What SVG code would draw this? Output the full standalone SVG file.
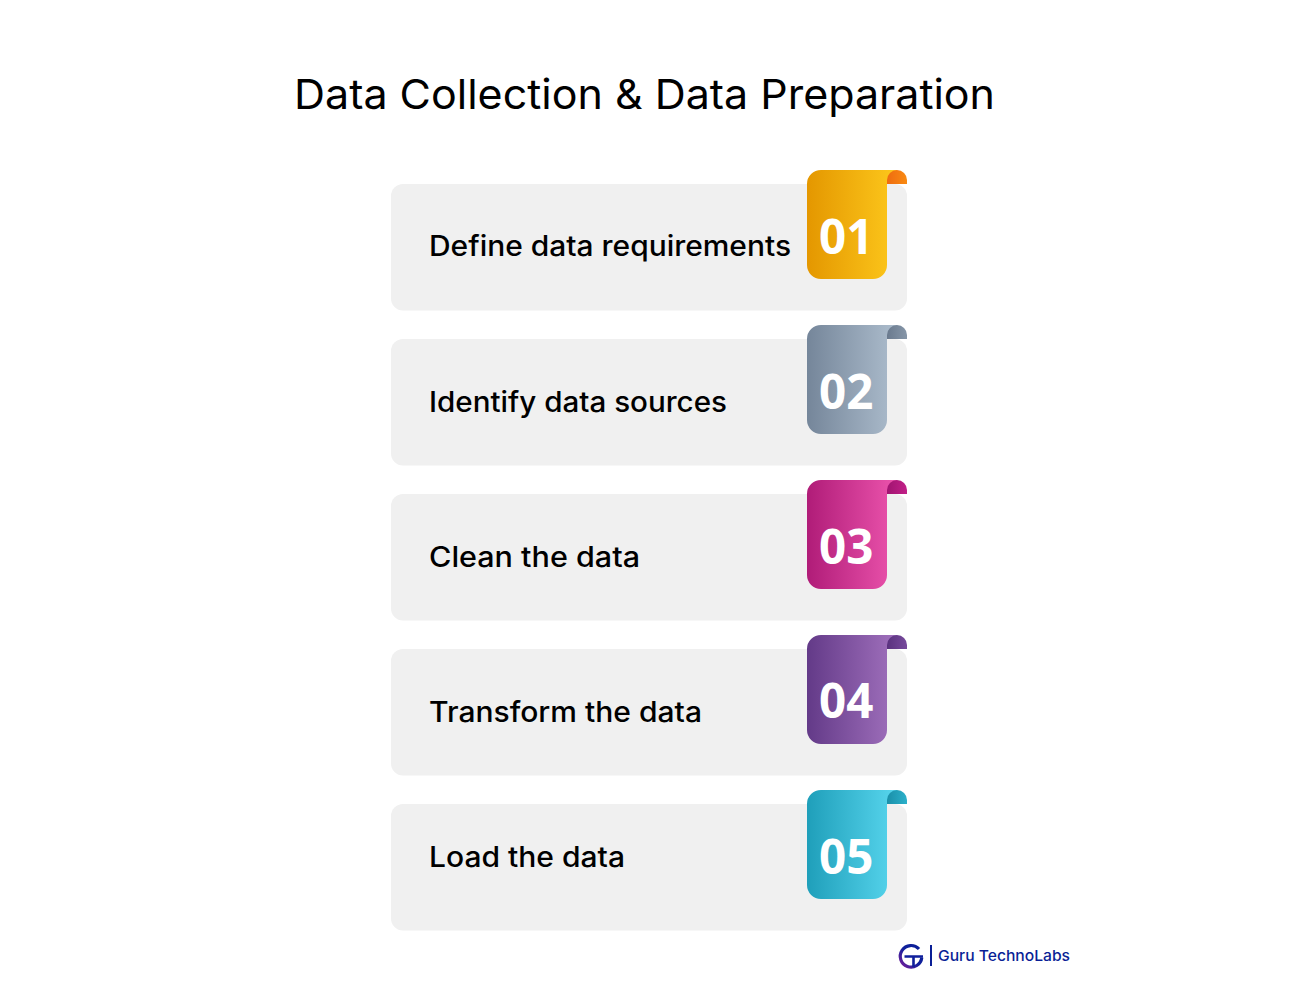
<svg xmlns="http://www.w3.org/2000/svg" width="1298" height="992" viewBox="0 0 1298 992">
<style>
.card{fill:#f0f0f0}
.label{font:500 28px Inter,"Liberation Sans",sans-serif;fill:#000}
.num{font:700 47.500px "Open Sans","Liberation Sans",sans-serif;fill:#fff}
</style>
<defs>
<linearGradient id="g1"><stop offset="0" stop-color="#e49700"/><stop offset="1" stop-color="#fdc81c"/></linearGradient>
<linearGradient id="g2"><stop offset="0" stop-color="#75869a"/><stop offset="1" stop-color="#adbdcd"/></linearGradient>
<linearGradient id="g3"><stop offset="0" stop-color="#b01c78"/><stop offset="1" stop-color="#ec54ad"/></linearGradient>
<linearGradient id="g4"><stop offset="0" stop-color="#633a88"/><stop offset="1" stop-color="#a171bd"/></linearGradient>
<linearGradient id="g5"><stop offset="0" stop-color="#1f9fba"/><stop offset="1" stop-color="#58d6ee"/></linearGradient>
<linearGradient id="t1"><stop offset="0" stop-color="#ee6c10"/><stop offset="1" stop-color="#f98a12"/></linearGradient>
<linearGradient id="t2"><stop offset="0" stop-color="#6a7a8e"/><stop offset="1" stop-color="#8696a8"/></linearGradient>
<linearGradient id="t3"><stop offset="0" stop-color="#a01470"/><stop offset="1" stop-color="#c22088"/></linearGradient>
<linearGradient id="t4"><stop offset="0" stop-color="#5a327e"/><stop offset="1" stop-color="#774a9c"/></linearGradient>
<linearGradient id="t5"><stop offset="0" stop-color="#1a8fa9"/><stop offset="1" stop-color="#2cb0ca"/></linearGradient>
<linearGradient id="logo" x1="0" y1="1" x2="1" y2="0"><stop offset="0" stop-color="#7a1f9a"/><stop offset="0.5" stop-color="#10209c"/><stop offset="1" stop-color="#0a1f96"/></linearGradient>
<path id="paper" d="M821 0H897V14H887V95A14 14 0 0 1 873 109H821A14 14 0 0 1 807 95V14A14 14 0 0 1 821 0Z"/>
<path id="tab" d="M887 14V10A10 10 0 0 1 907 10V14Z"/>
</defs>
<rect width="1298" height="992" fill="#fff"/>
<text x="294" y="109" textLength="701" lengthAdjust="spacingAndGlyphs" style="font:400 41px Inter,'Liberation Sans',sans-serif" fill="#000">Data Collection &amp; Data Preparation</text>

<g id="node-1">
<rect class="card" x="391" y="184" width="516" height="126.500" rx="12"/>
<use href="#paper" y="170" fill="url(#g1)"/>
<use href="#tab" y="170" fill="url(#t1)"/>
<text class="num" x="819" y="254">01</text>
<text class="label" x="429" y="256" textLength="362" lengthAdjust="spacingAndGlyphs">Define data requirements</text>
</g>
<g id="node-2">
<rect class="card" x="391" y="339" width="516" height="126.500" rx="12"/>
<use href="#paper" y="325" fill="url(#g2)"/>
<use href="#tab" y="325" fill="url(#t2)"/>
<text class="num" x="819" y="409">02</text>
<text class="label" x="429" y="412" textLength="298" lengthAdjust="spacingAndGlyphs">Identify data sources</text>
</g>
<g id="node-3">
<rect class="card" x="391" y="494" width="516" height="126.500" rx="12"/>
<use href="#paper" y="480" fill="url(#g3)"/>
<use href="#tab" y="480" fill="url(#t3)"/>
<text class="num" x="819" y="564">03</text>
<text class="label" x="429" y="567" textLength="211" lengthAdjust="spacingAndGlyphs">Clean the data</text>
</g>
<g id="node-4">
<rect class="card" x="391" y="649" width="516" height="126.500" rx="12"/>
<use href="#paper" y="635" fill="url(#g4)"/>
<use href="#tab" y="635" fill="url(#t4)"/>
<text class="num" x="819" y="718">04</text>
<text class="label" x="429" y="722" textLength="273" lengthAdjust="spacingAndGlyphs">Transform the data</text>
</g>
<g id="node-5">
<rect class="card" x="391" y="804" width="516" height="126.500" rx="12"/>
<use href="#paper" y="790" fill="url(#g5)"/>
<use href="#tab" y="790" fill="url(#t5)"/>
<text class="num" x="819" y="874">05</text>
<text class="label" x="429" y="867" textLength="196" lengthAdjust="spacingAndGlyphs">Load the data</text>
</g>
<g id="logo-mark">
<path d="M919 949A10.800 10.800 0 1 0 921.800 957.500" fill="none" stroke="url(#logo)" stroke-width="3.200"/>
<path d="M904.500 956.500H923M913.500 956.500V967" fill="none" stroke="#10209c" stroke-width="2.600"/>
<rect x="930" y="945" width="2" height="21" fill="#0a1f96"/>
<text x="938" y="961" textLength="132" lengthAdjust="spacingAndGlyphs" style="font:500 15px Inter,'Liberation Sans',sans-serif" fill="#0a1f96">Guru TechnoLabs</text>
</g>
<g id="connectors"></g>
</svg>
